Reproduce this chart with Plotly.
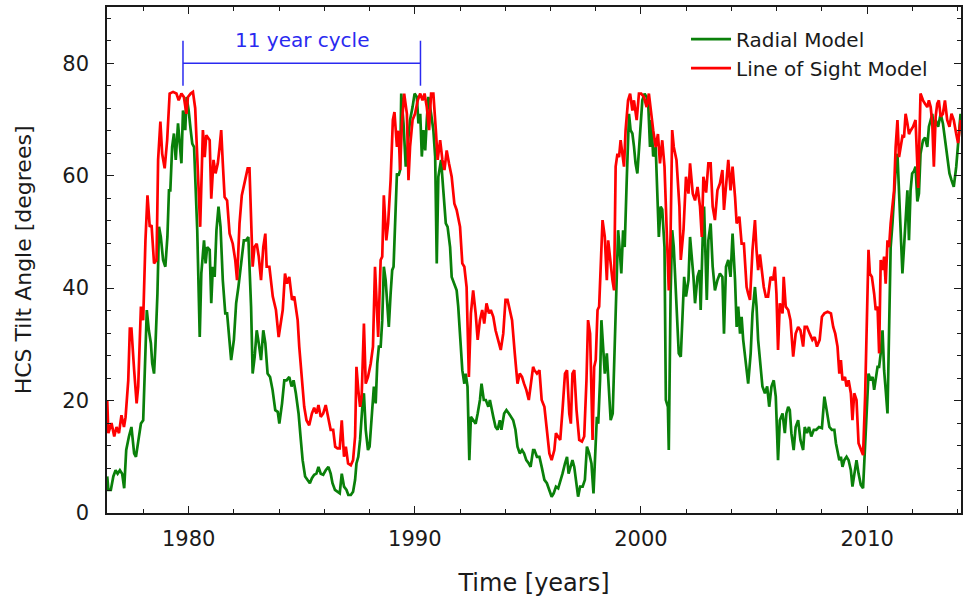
import plotly.graph_objects as go

# Heliospheric current sheet tilt angle, two coronal field models
radial_years = [
    1976.40, 1976.45, 1976.56, 1976.67, 1976.77, 1976.86, 1976.96, 1977.06, 1977.15, 1977.24,
    1977.36, 1977.47, 1977.59, 1977.67, 1977.77, 1977.89, 1977.99, 1978.06, 1978.15, 1978.24,
    1978.33, 1978.39, 1978.47, 1978.53, 1978.62, 1978.69, 1978.77, 1978.87, 1978.97, 1979.06,
    1979.13, 1979.19, 1979.27, 1979.35, 1979.43, 1979.53, 1979.60, 1979.68, 1979.75, 1979.85,
    1979.91, 1980.00, 1980.09, 1980.16, 1980.24, 1980.29, 1980.38, 1980.49, 1980.56, 1980.68,
    1980.75, 1980.82, 1980.93, 1981.00, 1981.07, 1981.15, 1981.23, 1981.32, 1981.41, 1981.51,
    1981.62, 1981.70, 1981.78, 1981.88, 1982.00, 1982.10, 1982.20, 1982.32, 1982.44, 1982.54,
    1982.64, 1982.76, 1982.83, 1982.92, 1983.01, 1983.10, 1983.20, 1983.30, 1983.39, 1983.49,
    1983.60, 1983.71, 1983.83, 1983.94, 1984.01, 1984.13, 1984.23, 1984.33, 1984.45, 1984.55,
    1984.64, 1984.74, 1984.86, 1984.96, 1985.04, 1985.15, 1985.26, 1985.36, 1985.45, 1985.55,
    1985.65, 1985.74, 1985.84, 1985.95, 1986.06, 1986.18, 1986.28, 1986.36, 1986.47, 1986.58,
    1986.68, 1986.77, 1986.87, 1986.98, 1987.06, 1987.17, 1987.27, 1987.36, 1987.42, 1987.50,
    1987.58, 1987.68, 1987.75, 1987.83, 1987.93, 1988.00, 1988.09, 1988.19, 1988.27, 1988.34,
    1988.41, 1988.49, 1988.56, 1988.63, 1988.71, 1988.78, 1988.85, 1988.93, 1989.00, 1989.06,
    1989.13, 1989.21, 1989.28, 1989.35, 1989.40, 1989.50, 1989.60, 1989.69, 1989.79, 1989.90,
    1989.99, 1990.09, 1990.16, 1990.24, 1990.31, 1990.38, 1990.46, 1990.53, 1990.60, 1990.72,
    1990.82, 1990.90, 1990.97, 1991.04, 1991.16, 1991.26, 1991.37, 1991.45, 1991.56, 1991.63,
    1991.75, 1991.85, 1991.92, 1992.00, 1992.10, 1992.19, 1992.25, 1992.33, 1992.41, 1992.48,
    1992.58, 1992.69, 1992.78, 1992.88, 1992.95, 1993.05, 1993.14, 1993.25, 1993.32, 1993.39,
    1993.47, 1993.57, 1993.66, 1993.76, 1993.83, 1993.95, 1994.05, 1994.16, 1994.24, 1994.35,
    1994.45, 1994.54, 1994.64, 1994.74, 1994.83, 1994.93, 1995.04, 1995.12, 1995.23, 1995.29,
    1995.40, 1995.51, 1995.61, 1995.73, 1995.84, 1995.95, 1996.05, 1996.14, 1996.24, 1996.34,
    1996.46, 1996.53, 1996.64, 1996.73, 1996.80, 1996.87, 1996.97, 1997.05, 1997.12, 1997.22,
    1997.31, 1997.42, 1997.52, 1997.61, 1997.71, 1997.81, 1997.90, 1997.97, 1998.05, 1998.11,
    1998.19, 1998.25, 1998.33, 1998.40, 1998.49, 1998.56, 1998.66, 1998.75, 1998.81, 1998.88,
    1998.93, 1998.99, 1999.07, 1999.13, 1999.21, 1999.28, 1999.37, 1999.47, 1999.54, 1999.62,
    1999.69, 1999.76, 1999.84, 1999.91, 1999.98, 2000.06, 2000.16, 2000.25, 2000.32, 2000.40,
    2000.46, 2000.54, 2000.65, 2000.72, 2000.79, 2000.87, 2000.94, 2001.04, 2001.10, 2001.19,
    2001.23, 2001.31, 2001.38, 2001.45, 2001.57, 2001.67, 2001.76, 2001.85, 2001.91, 2001.99,
    2002.10, 2002.17, 2002.25, 2002.32, 2002.39, 2002.50, 2002.59, 2002.64, 2002.73, 2002.79,
    2002.91, 2002.98, 2003.08, 2003.17, 2003.27, 2003.38, 2003.49, 2003.60, 2003.67, 2003.76,
    2003.86, 2003.96, 2004.05, 2004.16, 2004.23, 2004.30, 2004.38, 2004.45, 2004.52, 2004.64,
    2004.74, 2004.85, 2004.93, 2005.04, 2005.11, 2005.18, 2005.29, 2005.37, 2005.48, 2005.58,
    2005.67, 2005.77, 2005.87, 2005.96, 2006.06, 2006.14, 2006.26, 2006.36, 2006.43, 2006.51,
    2006.58, 2006.65, 2006.75, 2006.84, 2006.95, 2007.05, 2007.17, 2007.24, 2007.34, 2007.43,
    2007.53, 2007.64, 2007.75, 2007.87, 2008.00, 2008.11, 2008.21, 2008.33, 2008.44, 2008.55,
    2008.62, 2008.69, 2008.77, 2008.84, 2008.91, 2008.99, 2009.09, 2009.18, 2009.28, 2009.35,
    2009.43, 2009.53, 2009.62, 2009.72, 2009.82, 2009.91, 2009.99, 2010.06, 2010.16, 2010.24,
    2010.31, 2010.38, 2010.46, 2010.53, 2010.60, 2010.68, 2010.75, 2010.82, 2010.90, 2010.97,
    2011.04, 2011.12, 2011.19, 2011.26, 2011.34, 2011.41, 2011.48, 2011.56, 2011.63, 2011.70,
    2011.78, 2011.85, 2011.92, 2011.99, 2012.07, 2012.14, 2012.22, 2012.29, 2012.36, 2012.47,
    2012.56, 2012.66, 2012.73, 2012.81, 2012.88, 2012.95, 2013.03, 2013.14, 2013.25, 2013.35,
    2013.44, 2013.54, 2013.64, 2013.73, 2013.83, 2013.94, 2014.02, 2014.13,
]
radial_tilt = [
    6.5, 4.1, 4.1, 6.5, 7.6, 7.0, 7.6, 7.0, 4.4, 11.2,
    13.6, 15.3, 10.6, 10.0, 12.7, 15.9, 16.5, 26.0, 36.1, 32.5,
    30.2, 26.6, 24.8, 29.6, 39.0, 50.9, 49.1, 45.0, 43.8, 49.1,
    57.4, 57.4, 65.1, 67.5, 62.8, 69.3, 66.3, 62.2, 71.6, 68.1,
    74.0, 71.6, 68.1, 65.7, 65.1, 59.2, 50.3, 31.3, 42.6, 48.5,
    44.4, 47.3, 46.8, 37.3, 43.8, 42.0, 50.3, 54.5, 50.9, 41.4,
    35.5, 35.5, 31.3, 27.2, 30.8, 37.3, 40.2, 45.0, 48.5, 48.5,
    49.1, 36.7, 24.8, 27.8, 32.5, 30.2, 27.2, 32.5, 30.2, 24.8,
    24.2, 21.9, 18.3, 18.0, 15.9, 19.5, 23.6, 23.6, 24.2, 22.5,
    23.6, 21.3, 17.7, 13.0, 9.4, 6.5, 5.9, 5.3, 6.2, 6.8,
    7.0, 8.2, 7.0, 6.8, 7.6, 8.2, 7.0, 5.3, 4.1, 3.8,
    3.5, 7.0, 4.7, 4.1, 3.2, 3.2, 3.8, 5.9, 8.8, 10.0,
    13.0, 18.9, 21.3, 14.8, 11.2, 11.8, 17.7, 22.5, 19.5, 26.6,
    29.6, 29.6, 34.3, 43.8, 41.4, 36.7, 33.1, 39.0, 43.2, 43.8,
    53.3, 60.4, 60.0, 61.0, 74.6, 69.3, 61.6, 65.1, 69.9, 72.2,
    74.6, 74.0, 69.3, 71.0, 63.4, 68.1, 64.5, 69.9, 74.0, 71.0,
    68.1, 63.4, 44.4, 59.8, 62.8, 57.4, 51.5, 50.9, 47.3, 42.0,
    40.8, 39.6, 36.7, 30.8, 25.4, 23.0, 24.8, 22.5, 9.4, 17.1,
    16.5, 15.9, 17.7, 20.1, 23.0, 20.1, 20.1, 18.9, 20.1, 18.3,
    17.1, 15.3, 14.8, 16.5, 14.8, 17.7, 18.3, 17.7, 17.1, 16.5,
    14.8, 11.8, 10.6, 11.2, 10.6, 9.4, 8.8, 8.2, 11.2, 11.2,
    10.0, 10.0, 8.2, 5.9, 5.3, 4.1, 2.9, 3.5, 4.7, 4.4,
    5.9, 7.0, 8.8, 10.0, 7.0, 8.2, 9.4, 8.2, 5.9, 2.9,
    4.7, 4.7, 5.9, 11.8, 10.6, 8.8, 3.5, 10.0, 17.1, 15.9,
    23.6, 34.3, 29.6, 24.8, 28.4, 23.6, 16.5, 17.7, 26.0, 39.0,
    46.2, 50.3, 46.2, 42.6, 50.3, 47.3, 59.2, 71.0, 68.1, 67.5,
    65.2, 62.2, 60.4, 65.1, 69.9, 73.4, 74.6, 74.0, 72.8, 65.1,
    69.9, 63.4, 65.1, 57.4, 49.1, 54.5, 54.0, 47.3, 20.1, 18.9,
    11.2, 39.0, 50.3, 47.3, 36.7, 28.4, 27.8, 36.7, 42.0, 38.5,
    41.4, 49.1, 45.6, 42.0, 37.3, 42.0, 43.2, 36.1, 49.1, 54.5,
    37.9, 48.5, 51.5, 43.8, 39.6, 41.4, 42.6, 42.0, 31.9, 43.8,
    45.0, 42.0, 49.7, 41.4, 33.1, 36.7, 31.9, 34.9, 30.8, 26.6,
    23.0, 28.4, 35.5, 40.2, 36.7, 30.8, 26.0, 22.5, 21.3, 22.5,
    18.9, 22.5, 23.6, 20.7, 9.4, 16.5, 17.7, 14.2, 17.7, 18.9,
    18.3, 14.2, 11.2, 15.3, 16.5, 13.0, 11.2, 15.3, 14.2, 15.3,
    13.6, 14.8, 14.8, 15.3, 15.1, 20.7, 18.3, 15.3, 14.8, 14.8,
    12.4, 10.6, 9.4, 10.0, 8.2, 9.4, 10.0, 9.4, 7.6, 4.7,
    7.0, 9.4, 7.0, 5.0, 4.4, 11.8, 20.1, 24.8, 23.6, 24.2,
    21.9, 23.6, 26.0, 26.0, 28.4, 32.5, 25.4, 21.9, 17.7, 32.5,
    47.3, 51.5, 56.2, 61.0, 63.9, 56.2, 48.5, 42.6, 47.3, 52.1,
    57.4, 48.5, 57.4, 60.4, 60.8, 61.6, 55.4, 56.8, 63.9, 66.3,
    66.8, 65.1, 68.7, 69.9, 71.0, 68.1, 69.9, 68.7, 71.0, 69.3,
    66.3, 62.8, 60.4, 59.2, 58.0, 61.6, 65.1, 71.0,
]

los_years = [
    1976.40, 1976.45, 1976.59, 1976.71, 1976.81, 1976.92, 1977.03, 1977.14, 1977.21, 1977.33,
    1977.40, 1977.47, 1977.59, 1977.70, 1977.77, 1977.89, 1977.99, 1978.09, 1978.18, 1978.28,
    1978.36, 1978.47, 1978.58, 1978.65, 1978.75, 1978.83, 1978.94, 1979.05, 1979.16, 1979.31,
    1979.46, 1979.56, 1979.68, 1979.79, 1979.90, 1979.97, 1980.09, 1980.19, 1980.29, 1980.41,
    1980.51, 1980.63, 1980.71, 1980.78, 1980.93, 1981.00, 1981.10, 1981.19, 1981.29, 1981.37,
    1981.44, 1981.51, 1981.59, 1981.70, 1981.81, 1981.95, 1982.06, 1982.14, 1982.25, 1982.35,
    1982.47, 1982.61, 1982.69, 1982.76, 1982.83, 1982.91, 1983.01, 1983.10, 1983.20, 1983.30,
    1983.39, 1983.45, 1983.57, 1983.72, 1983.86, 1983.98, 1984.08, 1984.16, 1984.26, 1984.35,
    1984.45, 1984.57, 1984.67, 1984.82, 1984.89, 1985.01, 1985.11, 1985.21, 1985.33, 1985.45,
    1985.55, 1985.65, 1985.74, 1985.84, 1985.95, 1986.06, 1986.18, 1986.28, 1986.39, 1986.48,
    1986.58, 1986.68, 1986.77, 1986.87, 1986.95, 1987.05, 1987.17, 1987.27, 1987.36, 1987.42,
    1987.50, 1987.58, 1987.65, 1987.75, 1987.83, 1987.93, 1988.05, 1988.15, 1988.24, 1988.31,
    1988.38, 1988.49, 1988.56, 1988.63, 1988.74, 1988.82, 1988.93, 1989.03, 1989.10, 1989.21,
    1989.28, 1989.35, 1989.43, 1989.53, 1989.65, 1989.72, 1989.79, 1989.90, 1990.01, 1990.13,
    1990.24, 1990.34, 1990.43, 1990.53, 1990.63, 1990.72, 1990.82, 1990.93, 1991.01, 1991.12,
    1991.22, 1991.31, 1991.41, 1991.51, 1991.63, 1991.75, 1991.85, 1992.00, 1992.10, 1992.19,
    1992.29, 1992.39, 1992.48, 1992.58, 1992.69, 1992.78, 1992.88, 1992.98, 1993.07, 1993.17,
    1993.28, 1993.36, 1993.47, 1993.57, 1993.69, 1993.80, 1993.91, 1994.01, 1994.10, 1994.20,
    1994.30, 1994.42, 1994.54, 1994.64, 1994.74, 1994.83, 1994.93, 1995.04, 1995.12, 1995.23,
    1995.29, 1995.40, 1995.51, 1995.61, 1995.73, 1995.84, 1995.95, 1996.05, 1996.17, 1996.24,
    1996.34, 1996.43, 1996.53, 1996.64, 1996.73, 1996.83, 1996.90, 1996.97, 1997.05, 1997.15,
    1997.27, 1997.39, 1997.49, 1997.59, 1997.66, 1997.75, 1997.86, 1997.93, 1998.00, 1998.08,
    1998.15, 1998.22, 1998.30, 1998.40, 1998.49, 1998.55, 1998.63, 1998.74, 1998.81, 1998.88,
    1998.96, 1999.03, 1999.10, 1999.18, 1999.25, 1999.32, 1999.43, 1999.52, 1999.62, 1999.69,
    1999.81, 1999.91, 2000.01, 2000.13, 2000.25, 2000.35, 2000.45, 2000.54, 2000.65, 2000.75,
    2000.84, 2000.94, 2001.04, 2001.13, 2001.23, 2001.31, 2001.38, 2001.45, 2001.57, 2001.70,
    2001.76, 2001.88, 2001.99, 2002.10, 2002.17, 2002.29, 2002.39, 2002.50, 2002.61, 2002.69,
    2002.76, 2002.88, 2002.98, 2003.08, 2003.17, 2003.27, 2003.38, 2003.49, 2003.60, 2003.67,
    2003.76, 2003.86, 2003.96, 2004.05, 2004.16, 2004.23, 2004.35, 2004.45, 2004.55, 2004.67,
    2004.74, 2004.82, 2004.93, 2005.04, 2005.11, 2005.18, 2005.26, 2005.33, 2005.43, 2005.52,
    2005.62, 2005.73, 2005.84, 2005.92, 2005.99, 2006.06, 2006.14, 2006.26, 2006.31, 2006.40,
    2006.51, 2006.61, 2006.73, 2006.84, 2006.95, 2007.05, 2007.17, 2007.24, 2007.34, 2007.46,
    2007.58, 2007.68, 2007.78, 2007.90, 2008.00, 2008.11, 2008.25, 2008.40, 2008.50, 2008.59,
    2008.69, 2008.77, 2008.84, 2008.91, 2009.02, 2009.09, 2009.18, 2009.28, 2009.35, 2009.43,
    2009.53, 2009.62, 2009.72, 2009.82, 2009.91, 2009.99, 2010.06, 2010.12, 2010.21, 2010.31,
    2010.38, 2010.46, 2010.53, 2010.60, 2010.68, 2010.75, 2010.82, 2010.90, 2010.97, 2011.04,
    2011.12, 2011.19, 2011.26, 2011.34, 2011.41, 2011.48, 2011.56, 2011.63, 2011.70, 2011.78,
    2011.85, 2011.92, 2012.03, 2012.14, 2012.26, 2012.36, 2012.47, 2012.56, 2012.66, 2012.73,
    2012.81, 2012.88, 2012.95, 2013.03, 2013.10, 2013.17, 2013.25, 2013.35, 2013.44, 2013.54,
    2013.64, 2013.73, 2013.83, 2013.94, 2014.02, 2014.13,
]
los_tilt = [
    20.0, 14.2, 16.0, 13.6, 15.3, 14.2, 17.4, 15.3, 17.0, 23.6,
    32.8, 32.8, 25.4, 19.5, 22.5, 36.7, 34.3, 48.5, 56.5, 50.9,
    51.2, 44.4, 45.0, 62.8, 69.6, 63.9, 61.3, 66.3, 74.6, 74.9,
    74.6, 73.4, 74.6, 74.0, 71.0, 74.0, 74.6, 74.9, 72.0, 59.2,
    50.9, 68.1, 63.3, 67.2, 66.3, 55.9, 62.8, 60.4, 62.2, 65.1,
    68.1, 62.2, 56.2, 55.6, 49.7, 47.9, 45.0, 41.4, 51.5, 56.5,
    58.6, 61.3, 61.3, 53.3, 43.8, 47.3, 47.9, 45.6, 41.4, 47.3,
    49.7, 43.8, 43.8, 38.5, 36.1, 31.3, 33.7, 36.1, 42.6, 40.8,
    42.0, 37.9, 38.5, 34.3, 29.6, 23.6, 18.9, 16.5, 15.6, 17.7,
    18.7, 17.7, 19.2, 17.1, 17.7, 19.2, 16.5, 14.8, 14.8, 11.8,
    11.5, 11.5, 16.5, 10.0, 11.8, 8.8, 8.5, 9.4, 13.6, 26.0,
    21.9, 18.9, 20.7, 33.7, 23.0, 24.2, 26.6, 29.6, 43.8, 37.9,
    31.3, 45.0, 45.6, 56.5, 48.5, 51.5, 59.2, 69.9, 71.3, 65.1,
    68.0, 61.0, 69.3, 74.6, 71.0, 59.2, 65.1, 69.9, 71.0, 73.4,
    74.6, 73.4, 74.6, 72.2, 68.1, 74.6, 74.6, 68.1, 62.8, 66.3,
    62.8, 61.0, 64.5, 62.2, 59.8, 55.0, 53.9, 50.9, 44.4, 43.8,
    40.2, 24.2, 35.5, 39.6, 35.5, 30.8, 34.3, 36.1, 33.7, 37.3,
    35.5, 36.1, 34.9, 32.5, 30.8, 29.0, 31.9, 37.9, 37.9, 36.1,
    34.3, 28.4, 23.0, 24.8, 24.2, 23.0, 21.9, 20.1, 22.5, 26.0,
    25.4, 24.8, 25.4, 20.1, 18.9, 14.8, 10.6, 9.4, 11.2, 14.2,
    13.6, 13.0, 18.3, 24.8, 25.4, 17.7, 15.9, 24.8, 25.4, 18.3,
    13.0, 12.7, 13.6, 23.6, 34.3, 31.9, 13.0, 26.0, 27.2, 36.1,
    36.7, 43.8, 52.1, 49.1, 41.4, 48.5, 45.0, 41.4, 39.6, 61.6,
    63.9, 63.3, 66.3, 63.3, 61.6, 68.1, 73.4, 74.6, 71.6, 73.4,
    69.9, 74.6, 74.6, 74.0, 72.2, 74.6, 71.0, 68.1, 65.1, 67.4,
    62.2, 66.3, 61.6, 50.3, 39.6, 49.7, 68.1, 65.1, 62.8, 54.5,
    45.0, 50.3, 59.8, 56.8, 62.2, 56.8, 55.6, 58.0, 54.5, 49.1,
    59.8, 57.0, 62.2, 62.2, 54.5, 52.1, 57.4, 58.6, 61.0, 53.9,
    58.6, 62.8, 57.4, 61.6, 56.2, 51.5, 52.7, 47.9, 47.9, 40.2,
    39.0, 37.9, 46.7, 52.1, 46.7, 43.2, 46.0, 43.2, 40.2, 38.5,
    38.5, 42.0, 41.4, 43.8, 39.0, 29.0, 37.3, 35.5, 42.0, 36.7,
    36.1, 34.3, 27.8, 31.9, 33.1, 32.5, 29.6, 33.1, 33.1, 31.9,
    30.8, 31.3, 29.6, 30.8, 34.9, 35.5, 35.8, 35.5, 33.1, 31.9,
    29.6, 24.8, 27.2, 23.6, 24.2, 22.5, 23.6, 21.3, 16.5, 21.3,
    20.1, 12.4, 11.2, 10.3, 20.7, 33.7, 46.8, 42.6, 42.0, 39.0,
    36.1, 36.7, 28.4, 45.0, 43.2, 45.6, 40.8, 48.5, 47.3, 51.5,
    55.0, 57.4, 65.1, 69.9, 63.3, 65.1, 67.0, 66.8, 71.0, 69.3,
    67.4, 68.0, 68.7, 69.9, 57.8, 74.6, 73.4, 72.8, 72.2, 73.4,
    72.2, 69.3, 61.6, 70.5, 72.8, 73.4, 70.5, 71.0, 73.4, 69.9,
    68.7, 71.0, 69.9, 67.4, 65.8, 69.9,
]

# Span of the marked solar cycle
cycle_start = 1979.75
cycle_end = 1990.25
cycle_level = 80
cycle_label = "11 year cycle"

x_range = [1976.39, 2014.15]
y_range = [0, 90]

GREEN = "#0a800a"
RED = "#ff0000"
BLUE = "#2a2af0"
INK = "#1a1a1a"
FONT = "DejaVu Sans, Liberation Sans, sans-serif"

fig = go.Figure()
fig.add_trace(go.Scatter(x=radial_years, y=radial_tilt, mode="lines",
                         name="Radial Model", line=dict(color=GREEN, width=2.7)))
fig.add_trace(go.Scatter(x=los_years, y=los_tilt, mode="lines",
                         name="Line of Sight Model", line=dict(color=RED, width=2.7)))

# Cycle bracket: horizontal bar with vertical end caps
fig.add_shape(type="line", x0=cycle_start, x1=cycle_end, y0=cycle_level, y1=cycle_level,
              line=dict(color=BLUE, width=1.5))
for xc in (cycle_start, cycle_end):
    fig.add_shape(type="line", x0=xc, x1=xc, y0=cycle_level - 4, y1=cycle_level + 4,
                  line=dict(color=BLUE, width=1.5))
fig.add_annotation(x=(cycle_start + cycle_end) / 2, y=cycle_level + 4.2, text=cycle_label,
                   showarrow=False, font=dict(family=FONT, size=20, color=BLUE))

# Vertical axis title, set close to the page edge
fig.add_annotation(xref="paper", yref="paper", x=-0.098, y=0.5, xanchor="center", yanchor="middle",
                   text="HCS Tilt Angle [degrees]", textangle=-90, showarrow=False,
                   font=dict(family=FONT, size=22, color=INK))

axis_common = dict(
    showline=True, linecolor=INK, linewidth=1.5, mirror="allticks",
    ticks="inside", ticklen=7, tickwidth=1.3, tickcolor=INK,
    showgrid=False, zeroline=False,
    tickfont=dict(family=FONT, size=21, color=INK),
)

fig.update_xaxes(
    range=x_range, tickvals=[1980, 1990, 2000, 2010],
    minor=dict(dtick=2, tick0=1980, ticks="inside", ticklen=4, tickcolor=INK, showgrid=False),
    title=dict(text="Time [years]", font=dict(family=FONT, size=24, color=INK), standoff=24),
    ticklabelstandoff=6,
    **axis_common,
)
fig.update_yaxes(
    range=y_range, tickvals=[0, 20, 40, 60, 80],
    minor=dict(dtick=4, tick0=0, ticks="inside", ticklen=4, tickcolor=INK, showgrid=False),
    ticklabelstandoff=12,
    **axis_common,
)

fig.update_layout(
    width=964, height=601,
    margin=dict(l=107, r=1, t=7, b=88),
    paper_bgcolor="white", plot_bgcolor="white",
    showlegend=True,
    legend=dict(x=0.678, y=0.975, xanchor="left", yanchor="top",
                bgcolor="rgba(0,0,0,0)", font=dict(family=FONT, size=20, color=INK),
                tracegroupgap=0, itemwidth=40),
)

fig.write_html("out.html")
